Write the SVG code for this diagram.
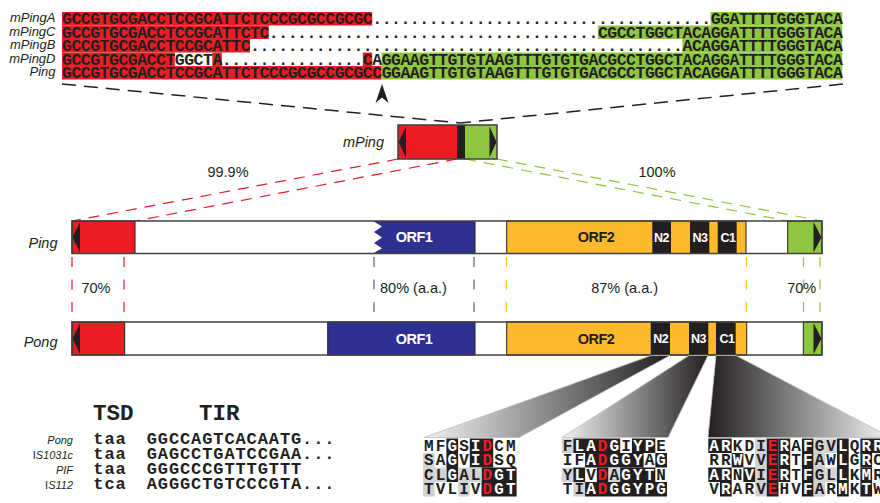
<svg xmlns="http://www.w3.org/2000/svg" width="880" height="503" viewBox="0 0 880 503">
<defs>
<style>
.lbl{font-family:"Liberation Sans",Arial,sans-serif;font-style:italic;fill:#231f20}
.seq{font-family:"Liberation Mono","Courier New",monospace;font-weight:bold;font-size:16.5px;letter-spacing:-0.5px;fill:#231f20}
.pct{font-family:"Liberation Sans",Arial,sans-serif;font-size:14.5px;fill:#231f20;text-anchor:middle}
.orf{font-family:"Liberation Sans",Arial,sans-serif;font-weight:bold;font-size:14.5px;letter-spacing:-0.6px;text-anchor:middle}
.dom{font-family:"Liberation Sans",Arial,sans-serif;font-weight:bold;font-size:12.5px;letter-spacing:-0.4px;fill:#fff;text-anchor:middle}
.aa{font-family:"Liberation Mono","Courier New",monospace;font-weight:bold;font-size:16px;fill:#231f20;text-anchor:middle}
.tir{font-family:"Liberation Mono","Courier New",monospace;font-weight:bold;font-size:17px;letter-spacing:0.9px;fill:#231f20}
.hdr{font-family:"Liberation Mono","Courier New",monospace;font-weight:bold;font-size:22.5px;fill:#231f20}
.w{fill:#fff}.r{fill:#ed1c24}
.red{fill:#ed1c24}.grn{fill:#8dc63f}.blu{fill:#2e3192}.yel{fill:#fdba2c}.blk{fill:#231f20}.gry{fill:#d1d3d4}.wht{fill:#fff}
.seg{stroke:#231f20;stroke-width:1}
.frame{fill:none;stroke:#414042;stroke-width:1.5}
.dk{fill:none;stroke:#231f20;stroke-width:1.5;stroke-dasharray:14 8}
.dr{fill:none;stroke:#ed1c24;stroke-width:1.2;stroke-dasharray:11 8}
.dg{fill:none;stroke:#8dc63f;stroke-width:1.2;stroke-dasharray:11 8}
.vr{stroke:#ed1c24;stroke-width:1.2;stroke-dasharray:10 12.5}
.vb{stroke:#5b5ea6;stroke-width:1.2;stroke-dasharray:10 12.5}
.vy{stroke:#fdba2c;stroke-width:1.2;stroke-dasharray:10 12.5}
.vg{stroke:#8dc63f;stroke-width:1.2;stroke-dasharray:10 12.5}
.fan{stroke:#bcbec0;stroke-width:0.8}
</style>
<linearGradient id="g1" gradientUnits="userSpaceOnUse" x1="424" y1="0" x2="670" y2="0"><stop offset="0" stop-color="#f1f2f2"/><stop offset="1" stop-color="#231f20"/></linearGradient>
<linearGradient id="g2" gradientUnits="userSpaceOnUse" x1="562" y1="0" x2="708" y2="0"><stop offset="0" stop-color="#f1f2f2"/><stop offset="1" stop-color="#231f20"/></linearGradient>
<linearGradient id="g3" gradientUnits="userSpaceOnUse" x1="708" y1="0" x2="890" y2="0"><stop offset="0" stop-color="#231f20"/><stop offset="1" stop-color="#f1f2f2"/></linearGradient>
</defs>
<rect width="880" height="503" fill="#fff"/>

<g id="alignment">
<rect class="red" x="62" y="12" width="310.2" height="13.5"/>
<rect class="grn" x="710.6" y="12" width="131.6" height="13.5"/>
<rect class="red" x="62" y="25.5" width="206.8" height="13.5"/>
<rect class="grn" x="597.8" y="25.5" width="244.4" height="13.5"/>
<rect class="red" x="62" y="39" width="188" height="13.5"/>
<rect class="grn" x="682.4" y="39" width="159.8" height="13.5"/>
<rect class="red" x="62" y="52.5" width="112.8" height="13.5"/>
<rect class="red" x="212.4" y="52.5" width="9.4" height="13.5"/>
<rect class="red" x="362.8" y="52.5" width="9.4" height="13.5"/>
<rect class="grn" x="381.6" y="52.5" width="460.6" height="13.5"/>
<rect class="red" x="62" y="66" width="319.6" height="13.5"/>
<rect class="grn" x="381.6" y="66" width="460.6" height="13.5"/>
<text class="lbl" font-size="13" text-anchor="end" x="55.5" y="22">mPingA</text>
<text class="lbl" font-size="13" text-anchor="end" x="55.5" y="35.5">mPingC</text>
<text class="lbl" font-size="13" text-anchor="end" x="55.5" y="49">mPingB</text>
<text class="lbl" font-size="13" text-anchor="end" x="55.5" y="62.5">mPingD</text>
<text class="lbl" font-size="13" text-anchor="end" x="55.5" y="76">Ping</text>
<text class="seq" x="62" y="24">GCCGTGCGACCTCCGCATTCTCCCGCGCCGCGC....................................GGATTTTGGGTACA</text>
<text class="seq" x="62" y="37.5">GCCGTGCGACCTCCGCATTCTC...................................CGCCTGGCTACAGGATTTTGGGTACA</text>
<text class="seq" x="62" y="51">GCCGTGCGACCTCCGCATTC..............................................ACAGGATTTTGGGTACA</text>
<text class="seq" x="62" y="64.5">GCCGTGCGACCTGGCTA...............CAGGAAGTTGTGTAAGTTTGTGTGACGCCTGGCTACAGGATTTTGGGTACA</text>
<text class="seq" x="62" y="78">GCCGTGCGACCTCCGCATTCTCCCGCGCCGCGCCGGAAGTTGTGTAAGTTTGTGTGACGCCTGGCTACAGGATTTTGGGTACA</text>
<path class="blk" d="M382 84 L388.5 103 L382 97.5 L375.5 103 Z"/>
</g>

<g id="connectors">
<path class="dk" d="M62 84 L460 123"/>
<path class="dk" d="M843 84 L460 123"/>
<path class="dr" d="M398 159 L72 221"/>
<path class="dr" d="M457 159 L135 221"/>
<path class="dg" d="M465 159 L788 221"/>
<path class="dg" d="M497 159 L822 221"/>
<line class="vr" x1="72" y1="257" x2="72" y2="312"/>
<line class="vr" x1="124" y1="257" x2="124" y2="312"/>
<line class="vb" x1="374" y1="257" x2="374" y2="312"/>
<line class="vb" x1="474" y1="257" x2="474" y2="312"/>
<line class="vy" x1="506.5" y1="257" x2="506.5" y2="312"/>
<line class="vy" x1="746.5" y1="257" x2="746.5" y2="312"/>
<line class="vg" x1="803.5" y1="257" x2="803.5" y2="312"/>
<line class="vg" x1="820" y1="257" x2="820" y2="312"/>
</g>

<g id="mping">
<rect class="red" x="398" y="125" width="59" height="34"/>
<rect class="blk" x="457" y="125" width="8" height="34"/>
<rect class="grn" x="465" y="125" width="32" height="34"/>
<path class="blk" d="M406 126.5 L398.5 142 L406 157.5 Z"/>
<path class="blk" d="M489.5 126.5 L496.5 142 L489.5 157.5 Z"/>
<rect class="frame" x="398" y="125" width="99" height="34"/>
<text class="lbl" font-size="14.5" text-anchor="end" x="384" y="146.7">mPing</text>
</g>

<g id="identity-labels">
<text class="pct" x="228" y="177">99.9%</text>
<text class="pct" x="657" y="177">100%</text>
<text class="pct" x="96" y="293">70%</text>
<text class="pct" x="413.5" y="293">80% (a.a.)</text>
<text class="pct" x="624.7" y="293">87% (a.a.)</text>
<text class="pct" x="801.7" y="293">70%</text>
</g>

<g id="ping">
<rect class="wht" x="72" y="221" width="750" height="32.5"/>
<rect class="red seg" x="72" y="221" width="63" height="32.5"/>
<path class="blk" d="M80 222 L72.5 237.2 L80 252.5 Z"/>
<path class="blu" d="M373 221 H475 V253.5 H373 L382 248.2 L374 243 L382 237.5 L374 232 L382 226.5 Z"/>
<line class="seg" x1="475" y1="221" x2="475" y2="253.5"/>
<rect class="yel seg" x="506.7" y="221" width="239.3" height="32.5"/>
<rect class="blk" x="652.3" y="221" width="18.7" height="32.5"/>
<rect class="blk" x="690" y="221" width="19.3" height="32.5"/>
<rect class="blk" x="717.7" y="221" width="19" height="32.5"/>
<rect class="grn seg" x="787.7" y="221" width="34.3" height="32.5"/>
<path class="blk" d="M813.5 222 L821.5 237.2 L813.5 252.5 Z"/>
<rect class="frame" x="72" y="221" width="750" height="32.5"/>
<text class="lbl" font-size="14.5" text-anchor="end" x="57.5" y="247.5">Ping</text>
<text class="orf w" x="414" y="241.7">ORF1</text>
<text class="orf blk" x="596" y="241.7">ORF2</text>
<text class="dom" x="661.5" y="241.5">N2</text>
<text class="dom" x="700" y="241.5">N3</text>
<text class="dom" x="728" y="241.5">C1</text>
</g>

<g id="pong">
<rect class="wht" x="72" y="322" width="750" height="33"/>
<rect class="red seg" x="72" y="322" width="52.7" height="33"/>
<path class="blk" d="M80 323 L72.5 338.5 L80 354 Z"/>
<rect class="blu seg" x="327.7" y="322" width="147.3" height="33"/>
<rect class="yel seg" x="506.7" y="322" width="240" height="33"/>
<rect class="blk" x="650.7" y="322" width="19.3" height="33"/>
<rect class="blk" x="689" y="322" width="19.3" height="33"/>
<rect class="blk" x="716" y="322" width="19.7" height="33"/>
<rect class="grn seg" x="803.3" y="322" width="18.7" height="33"/>
<path class="blk" d="M813.5 323 L821.5 338.5 L813.5 354 Z"/>
<rect class="frame" x="72" y="322" width="750" height="33"/>
<text class="lbl" font-size="14.5" text-anchor="end" x="57.5" y="346.5">Pong</text>
<text class="orf w" x="414" y="344">ORF1</text>
<text class="orf blk" x="596" y="343.5">ORF2</text>
<text class="dom" x="660.8" y="343">N2</text>
<text class="dom" x="698.5" y="343">N3</text>
<text class="dom" x="727" y="343">C1</text>
</g>

<g id="fans">
<polygon class="fan" fill="url(#g1)" points="651,355.5 670,355.5 519,437.5 424,437.5"/>
<polygon class="fan" fill="url(#g2)" points="689,355.5 708,355.5 668,437.5 562,437.5"/>
<polygon class="fan" fill="url(#g3)" points="716,355.5 736,355.5 891,437.5 708,437.5"/>
</g>

<g id="tir-table">
<text class="hdr" x="93" y="420">TSD</text>
<text class="hdr" x="199" y="420">TIR</text>
<text class="lbl" font-size="11" text-anchor="end" x="73" y="443.5">Pong</text>
<text class="lbl" font-size="11" text-anchor="end" x="73" y="458.8"><tspan font-style="normal">I</tspan>S1031c</text>
<text class="lbl" font-size="11" text-anchor="end" x="73" y="474.1">PIF</text>
<text class="lbl" font-size="11" text-anchor="end" x="73" y="489.4"><tspan font-style="normal">I</tspan>S112</text>
<text class="tir" x="93.3" y="443.5">taa</text>
<text class="tir" x="146.7" y="443.5">GGCCAGTCACAATG...</text>
<text class="tir" x="93.3" y="458.8">taa</text>
<text class="tir" x="146.7" y="458.8">GAGCCTGATCCGAA...</text>
<text class="tir" x="93.3" y="474.1">taa</text>
<text class="tir" x="146.7" y="474.1">GGGCCCGTTTGTTT</text>
<text class="tir" x="93.3" y="489.4">tca</text>
<text class="tir" x="146.7" y="489.4">AGGGCTGTCCCGTA...</text>
</g>

<g id="motif-n2">
<rect class="blk" x="446.4" y="438.5" width="11.7" height="43.5"/>
<rect class="blk" x="469.8" y="438.5" width="23.4" height="29"/>
<rect class="blk" x="481.5" y="467.5" width="35.1" height="29"/>
<rect class="gry" x="423" y="453" width="11.7" height="43.5"/>
<rect class="gry" x="434.7" y="467.5" width="11.7" height="14.5"/>
<rect class="gry" x="458.1" y="467.5" width="23.4" height="14.5"/>
<rect class="gry" x="458.1" y="482" width="11.7" height="14.5"/>
<text class="aa" y="450.5"><tspan x="428.85 440.55">MF</tspan><tspan class="w" x="452.25">G</tspan><tspan x="463.95">S</tspan><tspan class="w" x="475.65">I</tspan><tspan class="r" x="487.35">D</tspan><tspan x="499.05 510.75">CM</tspan></text>
<text class="aa" y="465"><tspan x="428.85 440.55">SA</tspan><tspan class="w" x="452.25">G</tspan><tspan x="463.95">V</tspan><tspan class="w" x="475.65">I</tspan><tspan class="r" x="487.35">D</tspan><tspan x="499.05 510.75">SQ</tspan></text>
<text class="aa" y="479.5"><tspan x="428.85 440.55">CL</tspan><tspan class="w" x="452.25">G</tspan><tspan x="463.95 475.65">AL</tspan><tspan class="r" x="487.35">D</tspan><tspan class="w" x="499.05 510.75">GT</tspan></text>
<text class="aa" y="494"><tspan x="428.85 440.55 452.25 463.95 475.65">TVLIV</tspan><tspan class="r" x="487.35">D</tspan><tspan class="w" x="499.05 510.75">GT</tspan></text>
</g>

<g id="motif-n3">
<rect class="gry" x="561.7" y="438.5" width="11.7" height="14.5"/>
<rect class="blk" x="573.4" y="438.5" width="46.8" height="14.5"/>
<rect class="blk" x="631.9" y="438.5" width="23.4" height="14.5"/>
<rect class="blk" x="585.1" y="453" width="58.5" height="14.5"/>
<rect class="blk" x="655.3" y="453" width="11.7" height="14.5"/>
<rect class="gry" x="561.7" y="467.5" width="11.7" height="14.5"/>
<rect class="blk" x="573.4" y="467.5" width="11.7" height="14.5"/>
<rect class="blk" x="596.8" y="467.5" width="11.7" height="14.5"/>
<rect class="gry" x="608.5" y="467.5" width="11.7" height="14.5"/>
<rect class="blk" x="620.2" y="467.5" width="35.1" height="14.5"/>
<rect class="gry" x="573.4" y="482" width="11.7" height="14.5"/>
<rect class="blk" x="585.1" y="482" width="81.9" height="14.5"/>
<text class="aa" y="450.5"><tspan x="567.55">F</tspan><tspan class="w" x="579.25 590.95">LA</tspan><tspan class="r" x="602.65">D</tspan><tspan class="w" x="614.35">G</tspan><tspan x="626.05">I</tspan><tspan class="w" x="637.75 649.45">YP</tspan><tspan x="661.15">E</tspan></text>
<text class="aa" y="465"><tspan x="567.55 579.25">IF</tspan><tspan class="w" x="590.95">A</tspan><tspan class="r" x="602.65">D</tspan><tspan class="w" x="614.35 626.05 637.75">GGY</tspan><tspan x="649.45">A</tspan><tspan class="w" x="661.15">G</tspan></text>
<text class="aa" y="479.5"><tspan x="567.55">Y</tspan><tspan class="w" x="579.25">L</tspan><tspan x="590.95">V</tspan><tspan class="r" x="602.65">D</tspan><tspan x="614.35">A</tspan><tspan class="w" x="626.05 637.75 649.45">GYT</tspan><tspan x="661.15">N</tspan></text>
<text class="aa" y="494"><tspan x="567.55 579.25">TI</tspan><tspan class="w" x="590.95">A</tspan><tspan class="r" x="602.65">D</tspan><tspan class="w" x="614.35 626.05 637.75 649.45 661.15">GGYPG</tspan></text>
</g>

<g id="motif-c1">
<rect class="gry" x="755.1" y="438.5" width="11.7" height="58"/>
<rect class="blk" x="766.8" y="438.5" width="11.7" height="58"/>
<rect class="blk" x="801.9" y="438.5" width="11.7" height="58"/>
<rect class="gry" x="813.6" y="438.5" width="11.7" height="58"/>
<rect class="blk" x="837" y="438.5" width="11.7" height="58"/>
<rect class="blk" x="708.3" y="438.5" width="23.4" height="14.5"/>
<rect class="blk" x="778.5" y="438.5" width="11.7" height="43.5"/>
<rect class="gry" x="825.3" y="438.5" width="11.7" height="14.5"/>
<rect class="blk" x="860.4" y="438.5" width="23.4" height="14.5"/>
<rect class="blk" x="731.7" y="453" width="11.7" height="14.5"/>
<rect class="blk" x="860.4" y="453" width="11.7" height="14.5"/>
<rect class="blk" x="708.3" y="467.5" width="23.4" height="14.5"/>
<rect class="blk" x="743.4" y="467.5" width="11.7" height="14.5"/>
<rect class="gry" x="825.3" y="467.5" width="11.7" height="14.5"/>
<rect class="blk" x="860.4" y="467.5" width="11.7" height="14.5"/>
<rect class="blk" x="720" y="482" width="11.7" height="14.5"/>
<rect class="blk" x="860.4" y="482" width="11.7" height="14.5"/>
<text class="aa" y="450.5"><tspan class="w" x="714.15 725.85">AR</tspan><tspan x="737.55 749.25 760.95">KDI</tspan><tspan class="r" x="772.65">E</tspan><tspan class="w" x="784.35">R</tspan><tspan x="796.05">A</tspan><tspan class="w" x="807.75">F</tspan><tspan x="819.45 831.15">GV</tspan><tspan class="w" x="842.85">L</tspan><tspan x="854.55">Q</tspan><tspan class="w" x="866.25 877.95">RR</tspan></text>
<text class="aa" y="465"><tspan x="714.15 725.85">RR</tspan><tspan class="w" x="737.55">W</tspan><tspan x="749.25 760.95">VV</tspan><tspan class="r" x="772.65">E</tspan><tspan class="w" x="784.35">R</tspan><tspan x="796.05">T</tspan><tspan class="w" x="807.75">F</tspan><tspan x="819.45 831.15">AW</tspan><tspan class="w" x="842.85">L</tspan><tspan x="854.55">G</tspan><tspan class="w" x="866.25">R</tspan><tspan x="877.95">C</tspan></text>
<text class="aa" y="479.5"><tspan class="w" x="714.15 725.85">AR</tspan><tspan x="737.55">N</tspan><tspan class="w" x="749.25">V</tspan><tspan x="760.95">I</tspan><tspan class="r" x="772.65">E</tspan><tspan class="w" x="784.35">R</tspan><tspan x="796.05">T</tspan><tspan class="w" x="807.75">F</tspan><tspan x="819.45 831.15">GL</tspan><tspan class="w" x="842.85">L</tspan><tspan x="854.55">K</tspan><tspan class="w" x="866.25">M</tspan><tspan x="877.95">R</tspan></text>
<text class="aa" y="494"><tspan x="714.15">V</tspan><tspan class="w" x="725.85">R</tspan><tspan x="737.55 749.25 760.95">ARV</tspan><tspan class="r" x="772.65">E</tspan><tspan x="784.35 796.05">HV</tspan><tspan class="w" x="807.75">F</tspan><tspan x="819.45 831.15">AR</tspan><tspan class="w" x="842.85">M</tspan><tspan x="854.55">K</tspan><tspan class="w" x="866.25">T</tspan><tspan x="877.95">W</tspan></text>
</g>
</svg>
